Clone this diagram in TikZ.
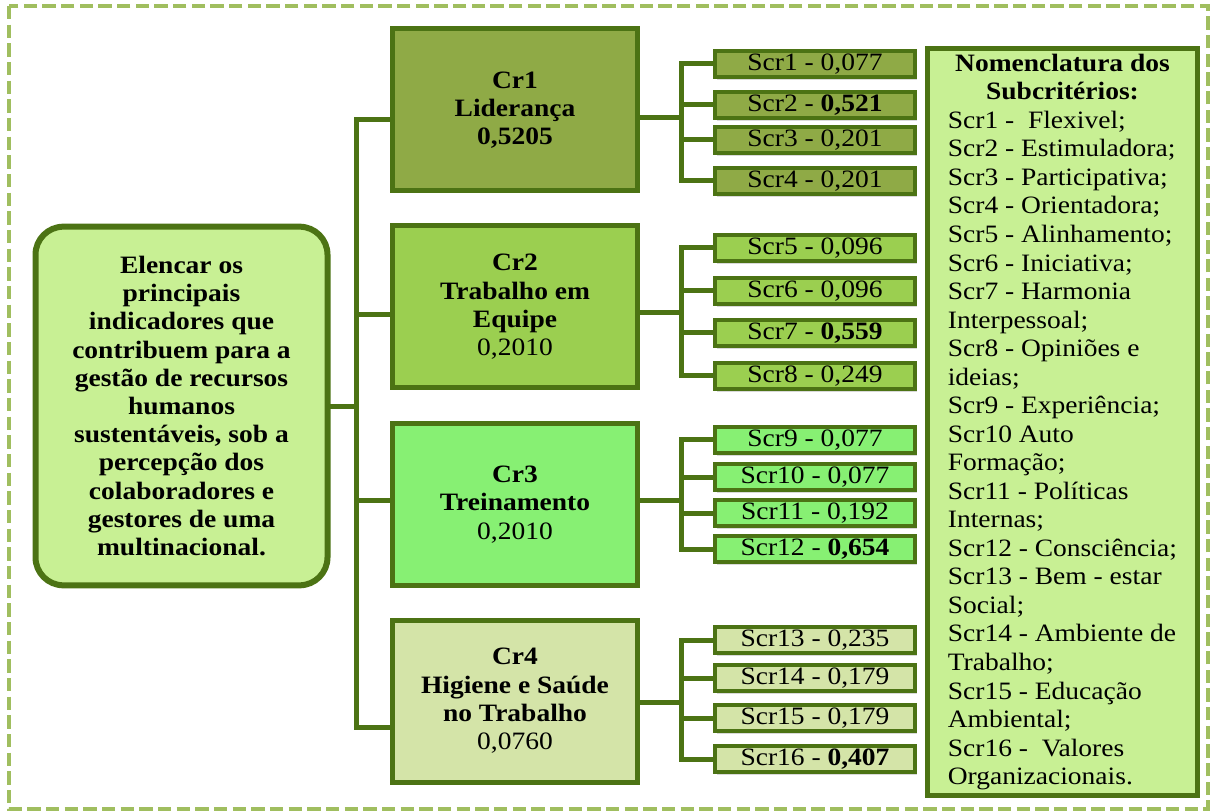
\documentclass[tikz,border=0pt]{standalone}
\usepackage{fontspec}
\setmainfont{Liberation Serif}[FakeStretch=1.1]
\usetikzlibrary{shadows}

\definecolor{darkleaf}{RGB}{76,115,20}
\definecolor{framegreen}{RGB}{160,190,95}
\definecolor{goalfill}{RGB}{200,240,148}
\definecolor{olivefill}{RGB}{143,170,70}
\definecolor{limefill}{RGB}{155,207,80}
\definecolor{mintfill}{RGB}{135,240,115}
\definecolor{palefill}{RGB}{212,228,168}

\tikzset{
  txt/.style={font={\fontsize{18.75}{21.2}\selectfont}},
  conn/.style={draw=darkleaf, line width=3.75pt, line cap=rect},
  boxshadow/.style={drop shadow={shadow xshift=1.8pt, shadow yshift=-1.8pt, opacity=0.3}},
  critbox/.style={draw=darkleaf, line width=3.75pt, minimum width=184pt, minimum height=121.5pt,
    align=center, inner sep=2pt, boxshadow, txt},
  subbox/.style={draw=darkleaf, line width=3pt, minimum width=150pt, minimum height=20pt,
    inner sep=0pt, boxshadow, txt},
}

\begin{document}
\begin{tikzpicture}[x=0.75pt, y=-0.75pt]
    \useasboundingbox (0,0) rectangle (1213,812);
    % dashed frame
    \draw[framegreen, line width=3pt, dash pattern=on 10pt off 4pt] (9,6) rectangle (1208,809);

    % objective
    \node[draw=darkleaf, fill=goalfill, line width=4.5pt, rounded corners=21pt,
      minimum width=219pt, minimum height=269pt, align=center,
      font={\fontsize{18.75}{21.15}\selectfont\bfseries}] (goal) at (181.5,406)
      {Elencar os\\principais\\indicadores que\\contribuem para a\\gestão de recursos\\humanos\\sustentáveis, sob a\\percepção dos\\colaboradores e\\gestores de uma\\multinacional.};

    % criteria
    \node[critbox, fill=olivefill] (cr1) at (515,110) {\textbf{Cr1}\\\textbf{Liderança}\\\textbf{0,5205}};
    \node[critbox, fill=limefill] (cr2) at (515,307) {\textbf{Cr2}\\\textbf{Trabalho em}\\\textbf{Equipe}\\0,2010};
    \node[critbox, fill=mintfill] (cr3) at (515,504.5) {\textbf{Cr3}\\\textbf{Treinamento}\\0,2010};
    \node[critbox, fill=palefill] (cr4) at (515,701) {\textbf{Cr4}\\\textbf{Higiene e Saúde}\\\textbf{no Trabalho}\\0,0760};

    % subcriteria
    \foreach \n/\y/\v in {1/64/{0,077}, 2/105/{\textbf{0,521}}, 3/140/{0,201}, 4/181/{0,201}}
      \node[subbox, fill=olivefill] (s\n) at (815,\y) {Scr\n{} - \v};
    \foreach \n/\y/\v in {5/248/{0,096}, 6/291/{0,096}, 7/333/{\textbf{0,559}}, 8/376/{0,249}}
      \node[subbox, fill=limefill] (s\n) at (815,\y) {Scr\n{} - \v};
    \foreach \n/\y/\v in {9/440/{0,077}, 10/477/{0,077}, 11/513/{0,192}, 12/549/{\textbf{0,654}}}
      \node[subbox, fill=mintfill] (s\n) at (815,\y) {Scr\n{} - \v};
    \foreach \n/\y/\v in {13/640/{0,235}, 14/678/{0,179}, 15/718/{0,179}, 16/759/{\textbf{0,407}}}
      \node[subbox, fill=palefill] (s\n) at (815,\y) {Scr\n{} - \v};

    % legend
    \node[draw=darkleaf, fill=goalfill, line width=3.75pt, minimum width=202.5pt, minimum height=560pt,
      inner sep=2pt, align=left, font={\fontsize{18.75}{21.4}\selectfont}] (nom) at (1062.5,422)
      {\makebox[172pt]{\textbf{Nomenclatura dos}}\\
       \makebox[172pt]{\textbf{Subcritérios:}}\\
       Scr1 - \ Flexivel;\\
       Scr2 - Estimuladora;\\
       Scr3 - Participativa;\\
       Scr4 - Orientadora;\\
       Scr5 - Alinhamento;\\
       Scr6 - Iniciativa;\\
       Scr7 - Harmonia\\
       Interpessoal;\\
       Scr8 - Opiniões e\\
       ideias;\\
       Scr9 - Experiência;\\
       Scr10 Auto\\
       Formação;\\
       Scr11 - Políticas\\
       Internas;\\
       Scr12 - Consciência;\\
       Scr13 - Bem - estar\\
       Social;\\
       Scr14 - Ambiente de\\
       Trabalho;\\
       Scr15 - Educação\\
       Ambiental;\\
       Scr16 - \ Valores\\
       Organizacionais.};

    % trunk from objective to criteria
    \coordinate (tm) at (356,407);
    \coordinate (t1) at (356,120);
    \coordinate (t2) at (356,315);
    \coordinate (t3) at (356,500);
    \coordinate (t4) at (356,727);
    \draw[conn] (goal.east |- tm) -- (tm);
    \draw[conn] (t1) -- (t4);
    \foreach \i in {1,...,4} \draw[conn] (t\i) -- (t\i -| cr\i.west);

    % branches from criteria to subcriteria
    \coordinate (b1) at (681,118);
    \coordinate (b2) at (681,313);
    \coordinate (b3) at (681,500);
    \coordinate (b4) at (681,702);
    \foreach \i in {1,...,4} \draw[conn] (b\i -| cr\i.east) -- (b\i);
    \foreach \n in {1,...,4} \draw[conn] (b1) |- (s\n.west);
    \foreach \n in {5,...,8} \draw[conn] (b2) |- (s\n.west);
    \foreach \n in {9,...,12} \draw[conn] (b3) |- (s\n.west);
    \foreach \n in {13,...,16} \draw[conn] (b4) |- (s\n.west);
\end{tikzpicture}
\end{document}
